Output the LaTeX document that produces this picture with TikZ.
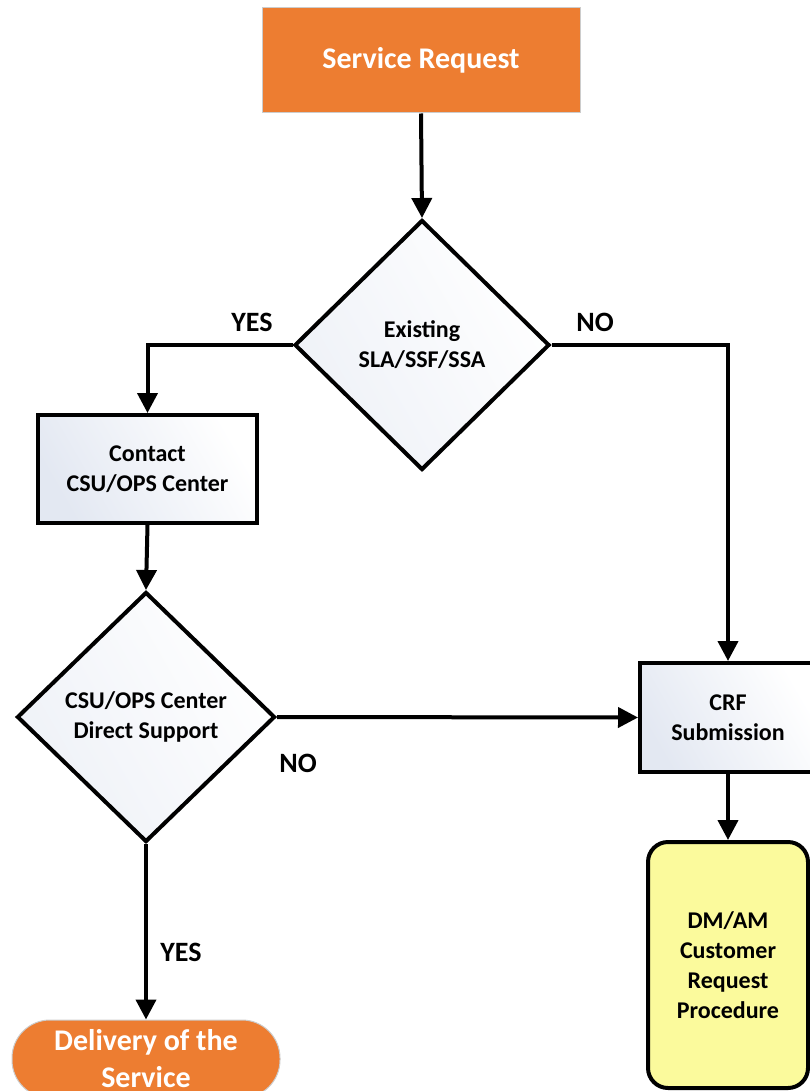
\documentclass[tikz,border=0pt]{standalone}
\usepackage{fontspec}
\setmainfont{Carlito}
\usetikzlibrary{shapes.geometric,arrows.meta,shadows}
\definecolor{orng}{HTML}{ED7D31}
\definecolor{paleblue}{HTML}{E3E8F2}
\definecolor{yel}{HTML}{FBFA9C}
\tikzset{
  conn/.style={line width=4pt,-{Triangle[length=20pt,width=20pt]}},
  procbox/.style={draw=black,line width=4pt,left color=paleblue,right color=white,shading angle=120,align=center,font=\bfseries\fontsize{24}{30}\selectfont,inner sep=0pt},
  decide/.style={diamond,draw=black,line width=4pt,left color=paleblue!60,right color=white,shading angle=120,align=center,font=\bfseries\fontsize{24}{30}\selectfont,inner sep=0pt},
  termbox/.style={fill=orng,draw=black!20,line width=1pt,text=white,align=center,font=\bfseries\fontsize{30}{37}\selectfont,inner sep=0pt},
  lbl/.style={font=\bfseries\fontsize{28}{30}\selectfont}
}
\begin{document}
\begin{tikzpicture}[x=1pt,y=-1pt]
\useasboundingbox (0,0) rectangle (809,1091);
\node[termbox,minimum width=318pt,minimum height=105pt] (sr) at (421,60.5) {Service Request};
\node[decide,minimum width=255pt,minimum height=250pt] (d1) at (422,345) {Existing\\SLA/SSF/SSA};
\node[procbox,minimum width=219pt,minimum height=108pt] (contact) at (147.5,469) {Contact\\CSU/OPS Center};
\node[decide,minimum width=258pt,minimum height=250pt] (d2) at (146,717) {CSU/OPS Center\\Direct Support};
\node[procbox,minimum width=176pt,minimum height=109pt] (crf) at (728,717.5) {CRF\\Submission};
\node[draw=black,line width=4pt,fill=yel,rounded corners=20pt,minimum width=160pt,minimum height=246pt,align=center,font=\bfseries\fontsize{24}{30}\selectfont,inner sep=0pt] (dm) at (728,965) {DM/AM\\Customer\\Request\\Procedure};
\node[termbox,rounded corners=38pt,minimum width=268pt,minimum height=78pt] (del) at (146,1059) {Delivery of the\\Service};
\draw[conn] (sr.south) -- (d1.north);
\draw[conn] (d1.west) -| (contact.north);
\draw[conn] (d1.east) -| (crf.north);
\draw[conn] (contact.south) -- (d2.north);
\draw[conn] (d2.east) -- (crf.west);
\draw[conn] (crf.south) -- (dm.north);
\draw[conn] (d2.south) -- (del.north);
\node[lbl] (yes1) at (252,322) {YES};
\node[lbl] (no1) at (595,322) {NO};
\node[lbl] (no2) at (298,763) {NO};
\node[lbl] (yes2) at (181,952) {YES};
\end{tikzpicture}
\end{document}
